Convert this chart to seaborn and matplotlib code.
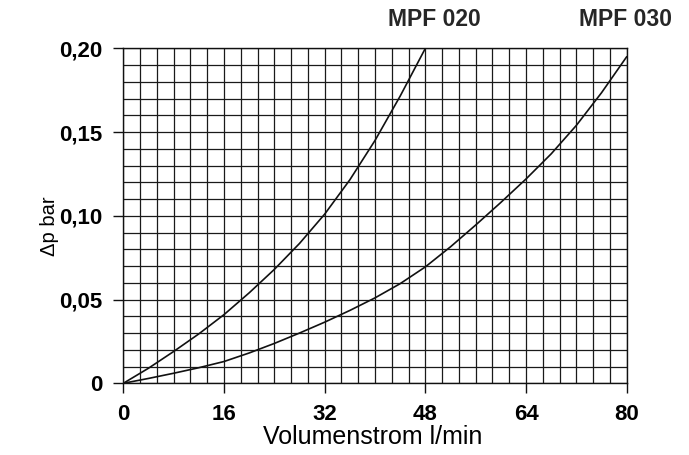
import numpy as np
import pandas as pd
import matplotlib
matplotlib.use("Agg")
import matplotlib.pyplot as plt
import seaborn as sns
from matplotlib.ticker import FixedLocator

# ---- data ----
x_mpf020 = [0, 4, 8, 12, 16, 20, 24, 28, 32, 36, 40, 44, 48]
dp_mpf020 = [0, 0.009, 0.019, 0.0295, 0.041, 0.054, 0.068, 0.0835, 0.101, 0.1215, 0.145, 0.1715, 0.200]

x_mpf030 = [0, 4, 8, 12, 16, 20, 24, 28, 32, 36, 40, 44, 48, 52, 56, 60, 64, 68, 72, 76, 80]
dp_mpf030 = [0, 0.0029, 0.006, 0.0093, 0.013, 0.0181, 0.0238, 0.030, 0.0365, 0.0435, 0.051,
             0.0595, 0.0695, 0.0815, 0.0945, 0.108, 0.122, 0.137, 0.154, 0.1735, 0.195]

series_names = ["MPF 020", "MPF 030"]
x_ticks = [0, 16, 32, 48, 64, 80]
x_ticklabels = ["0", "16", "32", "48", "64", "80"]
y_ticks = [0, 0.05, 0.10, 0.15, 0.20]
y_ticklabels = ["0", "0,05", "0,10", "0,15", "0,20"]
x_label = "Volumenstrom l/min"
y_label = "\u0394p bar"

df = pd.concat([
    pd.DataFrame({"flow": x_mpf020, "dp": dp_mpf020, "series": series_names[0]}),
    pd.DataFrame({"flow": x_mpf030, "dp": dp_mpf030, "series": series_names[1]}),
])

sns.set_theme(style="white")
plt.rcParams["font.family"] = ["Liberation Sans", "DejaVu Sans"]

fig = plt.figure(figsize=(6.89, 4.55), dpi=100)
ax = fig.add_axes([0.179, 0.1576, 0.7306, 0.7362])

# grid
ax.xaxis.set_minor_locator(FixedLocator(np.linspace(0, 80, 31)))
ax.yaxis.set_minor_locator(FixedLocator(np.linspace(0, 0.2, 21)))
ax.grid(which="minor", color="#1a1a1a", linewidth=0.9)
ax.grid(which="major", color="#1a1a1a", linewidth=0.9)
ax.set_axisbelow(True)

sns.lineplot(data=df, x="flow", y="dp", hue="series",
             palette={series_names[0]: "#111111", series_names[1]: "#111111"},
             linewidth=1.2, legend=False, ax=ax, sort=False)

ax.set_xlim(0, 80)
ax.set_ylim(0, 0.2)
ax.set_xticks(x_ticks)
ax.set_xticklabels(x_ticklabels, fontsize=16, fontweight="bold")
ax.set_yticks(y_ticks)
ax.set_yticklabels(y_ticklabels, fontsize=16, fontweight="bold")
ax.tick_params(axis="both", which="major", direction="out", length=7, width=1,
               color="#111111", pad=8, labelcolor="black",
               bottom=True, left=True)
ax.tick_params(axis="both", which="minor", length=0)

for s in ax.spines.values():
    s.set_visible(True)
    s.set_color("#111111")
    s.set_linewidth(1.0)

ax.set_xlabel(x_label, fontsize=18, color="black")
ax.set_ylabel(y_label, fontsize=14.5, color="black")
ax.xaxis.set_label_coords(0.496, -0.125)
ax.yaxis.set_label_coords(-0.128, 0.47)

# series labels above the curve ends
ax.text(49.4, 0.2133, series_names[0], ha="center", va="baseline",
        fontsize=16.5, fontweight="bold", clip_on=False)
ax.text(79.8, 0.2133, series_names[1], ha="center", va="baseline",
        fontsize=16.5, fontweight="bold", clip_on=False)

fig.savefig("out.png", dpi=100)
